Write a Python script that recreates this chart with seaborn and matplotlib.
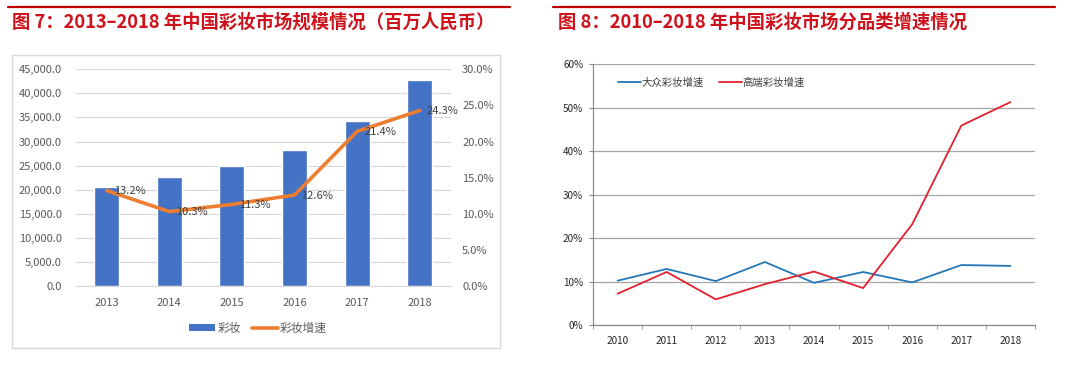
import matplotlib
matplotlib.use("Agg")
import matplotlib.pyplot as plt
from matplotlib.patches import Patch, Rectangle
from matplotlib.lines import Line2D
from matplotlib.ticker import FuncFormatter, FixedLocator
import seaborn as sns
import pandas as pd

# ---------------- data ----------------
left_years = ["2013", "2014", "2015", "2016", "2017", "2018"]
market_size = [20500, 22600, 25000, 28300, 34300, 42700]   # 百万人民币
market_growth = [13.2, 10.3, 11.3, 12.6, 21.4, 24.3]       # %

right_years = ["2010", "2011", "2012", "2013", "2014", "2015", "2016", "2017", "2018"]
mass_growth = [10.2, 12.9, 10.1, 14.5, 9.7, 12.2, 9.8, 13.8, 13.6]       # 大众彩妆增速 %
premium_growth = [7.2, 12.2, 5.9, 9.4, 12.3, 8.5, 23.2, 45.9, 51.3]      # 高端彩妆增速 %

left_title = "图 7：2013–2018 年中国彩妆市场规模情况（百万人民币）"
right_title = "图 8：2010–2018 年中国彩妆市场分品类增速情况"
bar_label = "彩妆"
line_label = "彩妆增速"
mass_label = "大众彩妆增速"
premium_label = "高端彩妆增速"

# ---------------- style ----------------
sns.set_style("white")
plt.rcParams["font.family"] = ["Noto Sans CJK SC", "DejaVu Sans"]
plt.rcParams["axes.unicode_minus"] = False

W, H = 1080, 371
fig = plt.figure(figsize=(W / 100, H / 100), dpi=100)

def fx(px):
    return px / W

def fy(py):
    return 1 - py / H

title_red = "#CE121C"
rule_red = "#C00000"

# top rules
fig.add_artist(Line2D([fx(8), fx(510)], [fy(6.5), fy(6.5)], color=rule_red, lw=1.6))
fig.add_artist(Line2D([fx(553), fx(1055)], [fy(6.5), fy(6.5)], color=rule_red, lw=1.6))

# titles
fig.text(fx(12), fy(22), left_title, color=title_red, fontsize=13.2, fontweight="bold",
         va="center", ha="left")
fig.text(fx(558), fy(22), right_title, color=title_red, fontsize=13.2, fontweight="bold",
         va="center", ha="left")

# left chart frame
fig.add_artist(Rectangle((fx(12), fy(348)), fx(500) - fx(12), fy(55) - fy(348),
                         fill=False, edgecolor="#D9D9D9", lw=1.0))

# ---------------- left chart ----------------
df_left = pd.DataFrame({"year": left_years, "size": market_size, "growth": market_growth})

axL = fig.add_axes([fx(75.5), fy(286), fx(451) - fx(75.5), fy(69.3) - fy(286)])
sns.barplot(data=df_left, x="year", y="size", color="#4472C4", saturation=1,
            width=0.4, ax=axL)
axL.set_ylim(0, 45000)
axL.yaxis.set_major_locator(FixedLocator(list(range(0, 45001, 5000))))
axL.yaxis.set_major_formatter(FuncFormatter(lambda v, p: f"{v:,.1f}"))
axL.grid(axis="y", color="#D9D9D9", lw=0.9)
axL.set_axisbelow(True)
for s in ["top", "right", "left"]:
    axL.spines[s].set_visible(False)
axL.spines["bottom"].set_color("#D9D9D9")
axL.tick_params(axis="both", length=0, labelsize=8, labelcolor="#595959")
axL.tick_params(axis="x", pad=9)
axL.tick_params(axis="y", pad=10)
axL.set_xlabel("")
axL.set_ylabel("")

axR = axL.twinx()
sns.lineplot(data=df_left, x="year", y="growth", color="#ED7D31", lw=2.6, ax=axR,
             sort=False)
axR.set_ylim(0, 30)
axR.yaxis.set_major_locator(FixedLocator(list(range(0, 31, 5))))
axR.yaxis.set_major_formatter(FuncFormatter(lambda v, p: f"{v:.1f}%"))
for s in ["top", "right", "left", "bottom"]:
    axR.spines[s].set_visible(False)
axR.tick_params(axis="y", length=0, labelsize=8, labelcolor="#595959", pad=8)
axR.set_ylabel("")
axR.set_xlabel("")
axL.set_xlim(-0.5, len(left_years) - 0.5)
for i, g in enumerate(market_growth):
    axR.annotate(f"{g:.1f}%", xy=(i, g), xytext=(5, -0.5), textcoords="offset points",
                 va="center", ha="left", fontsize=8, color="#404040")

handles = [Patch(facecolor="#4472C4", edgecolor="none"),
           Line2D([0], [0], color="#ED7D31", lw=2.6)]
fig.legend(handles, [bar_label, line_label], loc="center",
           bbox_to_anchor=(fx(258), fy(328)), ncol=2, frameon=False,
           fontsize=8.5, labelcolor="#595959", handlelength=2.2, handleheight=0.6,
           handletextpad=0.2, columnspacing=0.9)

# ---------------- right chart ----------------
df_right = pd.DataFrame({
    "year": right_years * 2,
    "series": [mass_label] * len(right_years) + [premium_label] * len(right_years),
    "value": [v / 100 for v in mass_growth] + [v / 100 for v in premium_growth],
})

ax2 = fig.add_axes([fx(593), fy(325), fx(1035) - fx(593), fy(64.3) - fy(325)])
sns.lineplot(data=df_right, x="year", y="value", hue="series",
             palette={mass_label: "#2378B5", premium_label: "#E3202E"},
             lw=1.3, ax=ax2, sort=False)
ax2.set_xlim(-0.5, len(right_years) - 0.5)
ax2.set_ylim(0, 0.6)
ax2.yaxis.set_major_locator(FixedLocator([i / 10 for i in range(7)]))
ax2.yaxis.set_major_formatter(FuncFormatter(lambda v, p: f"{v:.0%}"))
ax2.xaxis.set_minor_locator(FixedLocator([i - 0.5 for i in range(len(right_years) + 1)]))
ax2.grid(axis="y", color="#A6A6A6", lw=0.9)
ax2.set_axisbelow(True)
for s in ["top", "right"]:
    ax2.spines[s].set_visible(False)
for s in ["left", "bottom"]:
    ax2.spines[s].set_color("#8C8C8C")
    ax2.spines[s].set_linewidth(0.9)
ax2.tick_params(axis="y", length=3, color="#8C8C8C", labelsize=7.2, labelcolor="#262626",
                pad=4, left=True)
ax2.tick_params(axis="x", which="major", length=0, labelsize=7.2, labelcolor="#262626", pad=8)
ax2.tick_params(axis="x", which="minor", length=3, color="#8C8C8C", bottom=True)
ax2.set_xlabel("")
ax2.set_ylabel("")
leg = ax2.legend(loc="upper left", bbox_to_anchor=(0.035, 0.985), ncol=2, frameon=False,
                 fontsize=7.5, labelcolor="#404040", handlelength=2.2,
                 handletextpad=0.1, columnspacing=1.4, title=None)

fig.savefig("out.png", dpi=100)
